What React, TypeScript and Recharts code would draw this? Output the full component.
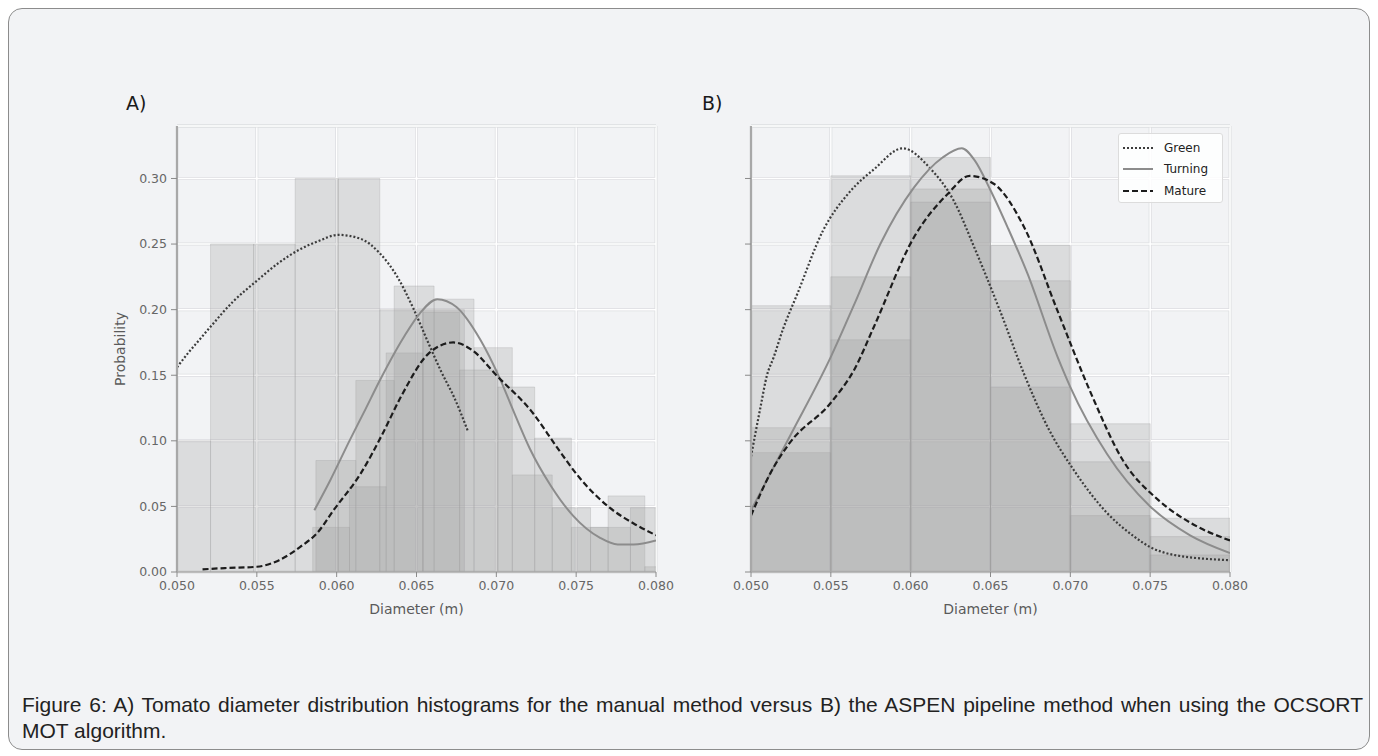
import React from 'react';
import {
  ComposedChart,
  XAxis,
  YAxis,
  CartesianGrid,
  Line,
  ReferenceArea,
  ReferenceLine,
  Legend,
} from 'recharts';

// ---------- axis ticks ----------
const xTicks = [0.05, 0.055, 0.06, 0.065, 0.07, 0.075, 0.08];
const yTicks = [0, 0.05, 0.1, 0.15, 0.2, 0.25, 0.3];

// ---------- Panel A histograms (bin edges + probability per bin) ----------
const greenEdgesA = [0.0495, 0.0521, 0.0548, 0.0574, 0.0601, 0.0627, 0.0654, 0.068];
const greenProbA = [0.1, 0.25, 0.25, 0.3, 0.3, 0.2, 0.2];
const turningEdgesA = [0.0587, 0.0612, 0.0636, 0.0661, 0.0686, 0.071, 0.0735, 0.0759, 0.0784, 0.0809];
const turningProbA = [0.085, 0.146, 0.218, 0.208, 0.171, 0.074, 0.049, 0.034, 0.049];
const matureEdgesA = [0.0585, 0.0608, 0.0631, 0.0654, 0.0677, 0.0701, 0.0724, 0.0747, 0.077, 0.0793, 0.0816];
const matureProbA = [0.034, 0.065, 0.167, 0.198, 0.154, 0.141, 0.102, 0.034, 0.058, 0.004];

// ---------- Panel B histograms ----------
const edgesB = [0.05, 0.055, 0.06, 0.065, 0.07, 0.075, 0.08];
const greenProbB = [0.203, 0.302, 0.282, 0.141, 0.043, 0.013];
const turningProbB = [0.11, 0.225, 0.316, 0.222, 0.084, 0.027];
const matureProbB = [0.091, 0.177, 0.292, 0.249, 0.113, 0.041];

// ---------- KDE curves, [diameter, probability] ----------
const greenKdeA = [
  [0.05, 0.156], [0.0507, 0.167], [0.0514, 0.177], [0.0521, 0.187], [0.0535, 0.206],
  [0.055, 0.222], [0.0563, 0.235], [0.0577, 0.246], [0.0588, 0.252], [0.0601, 0.257],
  [0.0615, 0.254], [0.0627, 0.243], [0.0638, 0.225], [0.0648, 0.201], [0.0658, 0.173],
  [0.0665, 0.154], [0.0674, 0.132], [0.0682, 0.108],
];
const turningKdeA = [
  [0.0586, 0.047], [0.0596, 0.07], [0.0608, 0.1], [0.0618, 0.124], [0.0627, 0.146],
  [0.0642, 0.179], [0.0652, 0.197], [0.0663, 0.208], [0.0675, 0.202], [0.069, 0.177],
  [0.0702, 0.148], [0.0712, 0.119], [0.0721, 0.094], [0.0734, 0.066], [0.0748, 0.043],
  [0.0765, 0.026], [0.0776, 0.021], [0.0786, 0.021], [0.08, 0.024],
];
const matureKdeA = [
  [0.0516, 0.002], [0.053, 0.003], [0.055, 0.004], [0.0564, 0.009], [0.0577, 0.019],
  [0.0588, 0.03], [0.0598, 0.047], [0.0615, 0.075], [0.0629, 0.106], [0.064, 0.133],
  [0.0658, 0.167], [0.0673, 0.175], [0.0685, 0.169], [0.07, 0.15], [0.0723, 0.121],
  [0.0738, 0.095], [0.0752, 0.072], [0.0771, 0.049], [0.0786, 0.037], [0.08, 0.028],
];
const greenKdeB = [
  [0.05, 0.088], [0.0506, 0.126], [0.051, 0.15], [0.0514, 0.163], [0.052, 0.185],
  [0.0529, 0.212], [0.0545, 0.26], [0.0562, 0.29], [0.0577, 0.307], [0.0595, 0.323],
  [0.0612, 0.308], [0.0627, 0.283], [0.064, 0.247], [0.0656, 0.199], [0.0671, 0.151],
  [0.0686, 0.11], [0.0702, 0.078], [0.0723, 0.045], [0.074, 0.027], [0.075, 0.019],
  [0.0765, 0.013], [0.08, 0.009],
];
const turningKdeB = [
  [0.05, 0.047], [0.0525, 0.105], [0.055, 0.164], [0.0565, 0.205], [0.0581, 0.25],
  [0.0602, 0.293], [0.062, 0.316], [0.0632, 0.323], [0.064, 0.314], [0.065, 0.291],
  [0.0661, 0.262], [0.0673, 0.228], [0.0692, 0.164], [0.07, 0.141], [0.0723, 0.09],
  [0.075, 0.05], [0.0775, 0.028], [0.08, 0.0145],
];
const matureKdeB = [
  [0.05, 0.043], [0.0512, 0.075], [0.0524, 0.098], [0.055, 0.129], [0.0565, 0.155],
  [0.0577, 0.187], [0.0602, 0.255], [0.0623, 0.288], [0.0637, 0.302], [0.0652, 0.296],
  [0.0671, 0.263], [0.0692, 0.199], [0.0713, 0.136], [0.0733, 0.085], [0.0755, 0.055],
  [0.0776, 0.037], [0.08, 0.024],
];

const seriesNames = ['Green', 'Turning', 'Mature'];

const FONT = "'DejaVu Sans', Verdana, sans-serif";

const lineStyles: Record<string, { stroke: string; strokeWidth: number; strokeDasharray?: string }> = {
  Green: { stroke: '#3c3c3c', strokeWidth: 2.2, strokeDasharray: '2 2' },
  Turning: { stroke: '#8c8c8c', strokeWidth: 2 },
  Mature: { stroke: '#1c1c1c', strokeWidth: 2.2, strokeDasharray: '6 3' },
};

type Bin = { x1: number; x2: number; p: number };
const toBins = (edges: number[], probs: number[]): Bin[] =>
  probs.map((p, i) => ({ x1: edges[i], x2: edges[i + 1], p }));
const toPts = (arr: number[][]) => arr.map(([x, y]) => ({ x, y }));

const LegendBox = () => (
  <div
    style={{
      width: 105,
      height: 70,
      background: 'rgba(255,255,255,0.85)',
      border: '1px solid #dcdcdc',
      borderRadius: 3,
      boxSizing: 'border-box',
      paddingTop: 3,
      fontFamily: FONT,
      fontSize: 12,
      color: '#222',
    }}
  >
    {seriesNames.map((n) => (
      <div key={n} style={{ display: 'flex', alignItems: 'center', height: 21.5, paddingLeft: 4 }}>
        <svg width={30} height={8} style={{ marginRight: 11 }}>
          <line x1={0} y1={4} x2={30} y2={4} {...lineStyles[n]} />
        </svg>
        <span>{n}</span>
      </div>
    ))}
  </div>
);

type PanelProps = {
  left: number;
  bins: Bin[][];
  kdes: { name: string; pts: { x: number; y: number }[] }[];
  showYLabels: boolean;
  showLegend: boolean;
};

const Panel = ({ left, bins, kdes, showYLabels, showLegend }: PanelProps) => (
  <div style={{ position: 'absolute', left, top: 95 }}>
    <ComposedChart width={590} height={540} margin={{ top: 31, right: 34, bottom: 18, left: 0 }}>
      <CartesianGrid stroke="#dcdde0" strokeWidth={3} />
      <CartesianGrid stroke="#ffffff" strokeWidth={1.5} />
      <ReferenceLine y={0.34} stroke="#dcdde0" strokeWidth={3} ifOverflow="visible" />
      <ReferenceLine y={0.34} stroke="#ffffff" strokeWidth={1.5} ifOverflow="visible" />
      <XAxis
        type="number"
        dataKey="x"
        domain={[0.05, 0.08]}
        ticks={xTicks}
        interval={0}
        allowDataOverflow
        tickFormatter={(v: number) => v.toFixed(3)}
        height={45}
        tickSize={5}
        tickMargin={4}
        tick={{ fill: '#666666', fontSize: 12.5, fontFamily: FONT }}
        tickLine={{ stroke: '#8a8a8a' }}
        axisLine={{ stroke: '#a8a8a8', strokeWidth: 1.5 }}
        label={{
          value: 'Diameter (m)',
          position: 'insideBottom',
          offset: 3,
          fill: '#5a5a5a',
          fontSize: 14,
          fontFamily: FONT,
        }}
      />
      <YAxis
        type="number"
        domain={[0, 0.34]}
        ticks={yTicks}
        interval={0}
        allowDataOverflow
        width={77}
        tickFormatter={(v: number) => (showYLabels ? v.toFixed(2) : '')}
        tickSize={6}
        tickMargin={4}
        tick={{ fill: '#666666', fontSize: 12.5, fontFamily: FONT }}
        tickLine={{ stroke: '#8a8a8a' }}
        axisLine={{ stroke: '#a8a8a8', strokeWidth: 2 }}
        label={
          showYLabels
            ? {
                value: 'Probability',
                angle: -90,
                position: 'center',
                dx: -18,
                fill: '#5a5a5a',
                fontSize: 14,
                fontFamily: FONT,
              }
            : undefined
        }
      />
      {bins.map((series, si) =>
        series.map((b, bi) => (
          <ReferenceArea
            key={`b-${si}-${bi}`}
            x1={b.x1}
            x2={b.x2}
            y1={0}
            y2={b.p}
            ifOverflow="hidden"
            fill="#999999"
            fillOpacity={0.25}
            stroke="#a0a0a0"
            strokeOpacity={0.3}
            strokeWidth={1}
          />
        ))
      )}
      {kdes.map((k) => (
        <Line
          key={k.name}
          name={k.name}
          data={k.pts}
          dataKey="y"
          type="monotone"
          dot={false}
          activeDot={false}
          isAnimationActive={false}
          {...lineStyles[k.name]}
        />
      ))}
      {showLegend && (
        <Legend
          layout="vertical"
          align="center"
          verticalAlign="middle"
          wrapperStyle={{ left: 444, top: 38, width: 105, height: 70 }}
          content={() => <LegendBox />}
        />
      )}
    </ComposedChart>
  </div>
);

const panelTitle = (txt: string, left: number) => (
  <div
    style={{
      position: 'absolute',
      left,
      top: 91,
      fontFamily: FONT,
      fontSize: 19,
      color: '#1a1a1a',
      lineHeight: '24px',
    }}
  >
    {txt}
  </div>
);

export default function App() {
  const binsA = [toBins(greenEdgesA, greenProbA), toBins(turningEdgesA, turningProbA), toBins(matureEdgesA, matureProbA)];
  const binsB = [toBins(edgesB, greenProbB), toBins(edgesB, turningProbB), toBins(edgesB, matureProbB)];
  const kdesA = [
    { name: 'Green', pts: toPts(greenKdeA) },
    { name: 'Turning', pts: toPts(turningKdeA) },
    { name: 'Mature', pts: toPts(matureKdeA) },
  ];
  const kdesB = [
    { name: 'Green', pts: toPts(greenKdeB) },
    { name: 'Turning', pts: toPts(turningKdeB) },
    { name: 'Mature', pts: toPts(matureKdeB) },
  ];
  return (
    <div style={{ position: 'absolute', left: 0, top: 0, width: 1378, height: 756, background: '#ffffff' }}>
      <div
        style={{
          position: 'absolute',
          left: 8,
          top: 8,
          width: 1362,
          height: 742,
          boxSizing: 'border-box',
          border: '1px solid #8c8c8c',
          borderRadius: 14,
          background: '#f2f3f5',
        }}
      />
      {panelTitle('A)', 126)}
      {panelTitle('B)', 702)}
      <Panel left={100} bins={binsA} kdes={kdesA} showYLabels showLegend={false} />
      <Panel left={674} bins={binsB} kdes={kdesB} showYLabels={false} showLegend />
      <div
        style={{
          position: 'absolute',
          left: 22,
          top: 692,
          width: 1341,
          fontFamily: "'Liberation Sans', Arial, sans-serif",
          fontSize: 21,
          lineHeight: '26px',
          color: '#222',
        }}
      >
        <div style={{ textAlign: 'justify', textAlignLast: 'justify' }}>
          Figure 6: A) Tomato diameter distribution histograms for the manual method versus B) the ASPEN pipeline method when using the OCSORT
        </div>
        <div>MOT algorithm.</div>
      </div>
    </div>
  );
}
